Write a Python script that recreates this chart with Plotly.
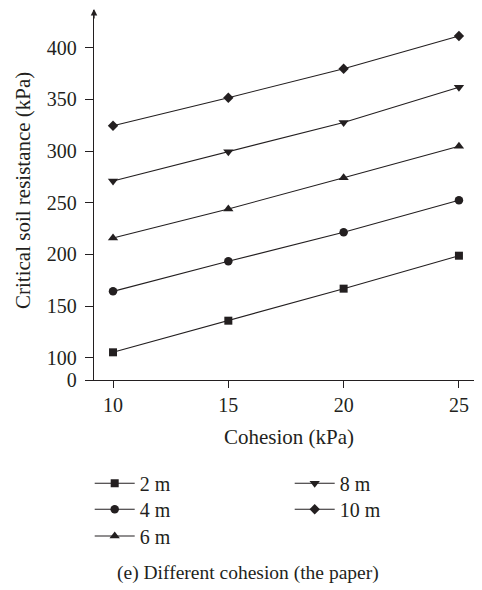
import plotly.graph_objects as go

# ---- data ----
cohesion = [10, 15, 20, 25]
s_2m = [105.2, 135.8, 166.8, 198.7]
s_4m = [164.2, 193.3, 221.4, 252.3]
s_6m = [215.8, 243.9, 274.2, 304.6]
s_8m = [271.0, 299.4, 327.7, 361.7]
s_10m = [324.5, 351.6, 379.7, 411.3]
series_names = ["2 m", "4 m", "6 m", "8 m", "10 m"]
y_tick_vals = [100, 150, 200, 250, 300, 350, 400]
y_tick_text = ["100", "150", "200", "250", "300", "350", "400"]
x_tick_vals = [10, 15, 20, 25]

INK = "#231f20"
FONT = "Liberation Serif"
BREAK_POS = 78.4  # display position of the broken-axis "0" tick

# page offset (browser body margin) and figure geometry
OFF = 8
W, H = 474, 582
ml, mr, mt, mb = 86, 0, 2, 210
pw, ph = W - ml - mr, H - mt - mb


def px_x(p):
    return (p - OFF - ml) / pw


def px_y(p):
    return (H - mb - (p - OFF)) / ph


symbols = ["square", "circle", "triangle-up", "triangle-down", "diamond"]
sizes = [8, 8.5, 9, 9, 8]
values = [s_2m, s_4m, s_6m, s_8m, s_10m]
legend_ids = ["legend", "legend2", "legend3", "legend4", "legend5"]
# legend entry positions (text left x, row centre y) in screen pixels
legend_pos = [(141.7, 483.3), (141.7, 509.3), (141.7, 536.0), (341.7, 483.3), (341.7, 509.3)]

fig = go.Figure()
for name, vals, sym, sz, lg in zip(series_names, values, symbols, sizes, legend_ids):
    fig.add_trace(go.Scatter(
        x=cohesion, y=vals, name=name, mode="lines+markers",
        line=dict(color=INK, width=1.1),
        marker=dict(symbol=sym, size=sz, color=INK, line=dict(width=0)),
        legend=lg,
    ))

legend_layout = {}
for lg, (tx, ty) in zip(legend_ids, legend_pos):
    legend_layout[lg] = dict(
        x=px_x(tx - 52), y=px_y(ty), xanchor="left", yanchor="middle",
        font=dict(family=FONT, size=20, color=INK),
        bgcolor="rgba(0,0,0,0)", itemwidth=40,
    )

fig.update_layout(
    width=W, height=H,
    margin=dict(l=ml, r=mr, t=mt, b=mb),
    paper_bgcolor="white", plot_bgcolor="white",
    font=dict(family=FONT, size=20, color=INK),
    xaxis=dict(
        range=[9.175, 26.0], tickvals=x_tick_vals,
        showline=True, linecolor=INK, linewidth=1.3,
        ticks="outside", ticklen=7, tickwidth=1.2, tickcolor=INK,
        showgrid=False, zeroline=False, automargin=False,
        tickfont=dict(family=FONT, size=20, color=INK),
    ),
    yaxis=dict(
        range=[BREAK_POS, 436.5],
        tickvals=[BREAK_POS] + y_tick_vals, ticktext=["0"] + y_tick_text,
        showline=True, linecolor=INK, linewidth=1.3,
        ticks="outside", ticklen=8, tickwidth=1.2, tickcolor=INK,
        showgrid=False, zeroline=False, ticklabelstandoff=4, automargin=False,
        tickfont=dict(family=FONT, size=20, color=INK),
    ),
    showlegend=True,
    **legend_layout,
)

fig.add_annotation(
    xref="paper", yref="paper", x=px_x(23), y=px_y(191),
    text="Critical soil resistance (kPa)", textangle=-90, showarrow=False,
    xanchor="center", yanchor="middle", font=dict(family=FONT, size=21, color=INK),
)
fig.add_annotation(
    xref="paper", yref="paper", x=px_x(288.7), y=px_y(437),
    text="Cohesion (kPa)", showarrow=False,
    xanchor="center", yanchor="middle", font=dict(family=FONT, size=21, color=INK),
)
fig.add_annotation(
    xref="paper", yref="paper", x=px_x(248.3), y=px_y(572.7),
    text="(e) Different cohesion (the paper)", showarrow=False,
    xanchor="center", yanchor="middle", font=dict(family=FONT, size=19.5, color=INK),
)
# arrow head at the top of the y axis
fig.add_annotation(
    xref="paper", yref="paper", x=0, y=px_y(6), ax=0, ay=14,
    showarrow=True, arrowhead=2, arrowsize=1, arrowwidth=1.3, arrowcolor=INK, text="",
)

fig.write_html("out.html")
